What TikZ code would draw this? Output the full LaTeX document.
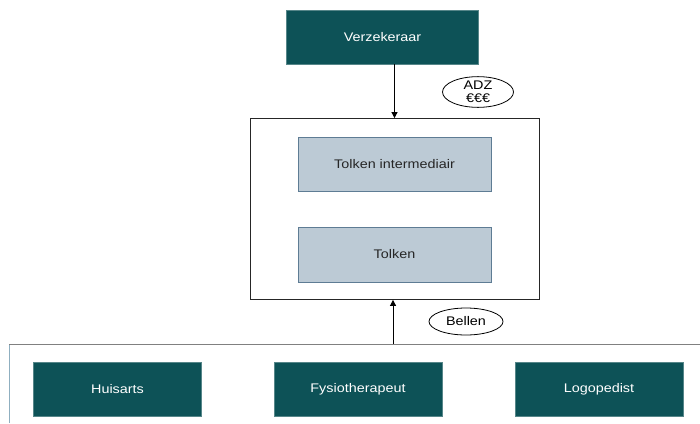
\documentclass[tikz,border=0pt]{standalone}
\usepackage{fontspec}
\setmainfont{Liberation Sans}[FakeStretch=1.15]
\usetikzlibrary{shapes.geometric,arrows.meta}
\definecolor{teal}{HTML}{0D5257}
\definecolor{lightbox}{HTML}{BCCAD5}
\definecolor{lightborder}{HTML}{5E7C94}
\definecolor{outerline}{HTML}{8FAFC0}
\begin{document}
\begin{tikzpicture}[x=1pt,y=-1pt,
  every node/.style={font=\fontsize{12.5}{13}\selectfont, inner sep=0pt},
  darkbox/.style={draw=teal!70!white, fill=teal, text=white, line width=0.6pt},
  lightstyle/.style={draw=lightborder, fill=lightbox, text=black!85, line width=0.8pt},
  bubble/.style={ellipse, draw=black, line width=0.8pt, fill=white, align=center},
  conn/.style={draw=black, line width=0.8pt, -{Triangle[length=6pt,width=6pt]}}]
\useasboundingbox (0,0) rectangle (700,423);
\fill[white] (0,0) rectangle (700,423);
% top
\node[darkbox, minimum width=192, minimum height=54] (verz) at (382.5,37) {Verzekeraar};
% middle container
\node[draw=black!85, line width=0.8pt, minimum width=289, minimum height=181] (mid) at (394.5,209) {};
\node[lightstyle, minimum width=193, minimum height=54] (ti) at (394.5,164) {Tolken intermediair};
\node[lightstyle, minimum width=193, minimum height=55] (tk) at (394.5,254.5) {Tolken};
% bottom container (open to right and bottom)
\coordinate (bl) at (9,423);
\coordinate (tl) at (9,344);
\coordinate (tr) at (700,344);
\coordinate (bt) at (393,344);
\draw[outerline, line width=1pt] (bl) -- (tl);
\draw[black!50, line width=1pt] (tl) -- (tr);
\node[darkbox, minimum width=168, minimum height=54] (huis) at (117.5,389) {Huisarts};
\node[darkbox, minimum width=168, minimum height=54] (fysio) at (358,389) {Fysiotherapeut};
\node[darkbox, minimum width=168, minimum height=54] (logo) at (599,389) {Logopedist};
% connectors
\draw[conn] (verz.south -| mid.north) -- (mid.north);
\draw[conn] (bt) -- (bt |- mid.south);
% labels
\node[bubble, minimum width=71, minimum height=30] (adz) at (478,92) {ADZ\\€€€};
\node[bubble, minimum width=74, minimum height=27] (bel) at (466,321.5) {Bellen};
\end{tikzpicture}
\end{document}
